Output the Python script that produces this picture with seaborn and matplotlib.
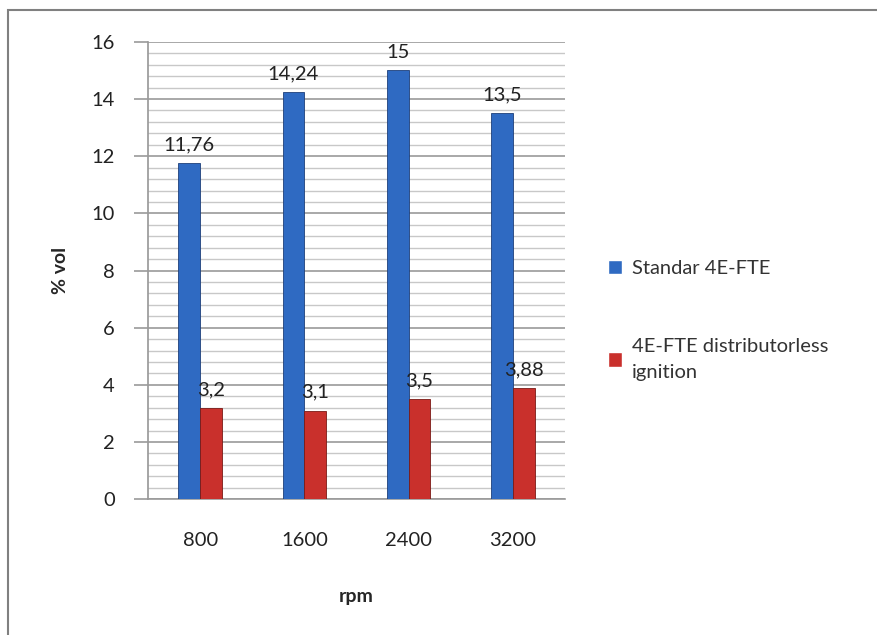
import pandas as pd
import numpy as np
import matplotlib.pyplot as plt
import matplotlib.patches as mpatches
from matplotlib.ticker import MultipleLocator
import seaborn as sns

# data
rpm = ["800", "1600", "2400", "3200"]
standar = [11.76, 14.24, 15, 13.5]
distributorless = [3.2, 3.1, 3.5, 3.88]
series_names = ["Standar 4E-FTE", "4E-FTE distributorless\nignition"]

df = pd.DataFrame({
    "rpm": rpm * 2,
    "value": standar + distributorless,
    "series": [series_names[0]] * len(rpm) + [series_names[1]] * len(rpm),
})

sns.set_theme(style="white")
plt.rcParams['font.family'] = ['Lato', 'DejaVu Sans']

fig = plt.figure(figsize=(8.77, 6.35), dpi=100)
ax = fig.add_axes([0.169, 0.214, 0.475, 0.72])

palette = {series_names[0]: "#2F6AC2", series_names[1]: "#C9302C"}
sns.barplot(data=df, x="rpm", y="value", hue="series", palette=palette,
            width=0.42, gap=0, ax=ax, saturation=1, legend=True, zorder=3)

for container, vals in zip(ax.containers, [standar, distributorless]):
    for patch in container:
        patch.set_edgecolor("#1E3F7A" if vals is standar else "#7A1A16")
        patch.set_linewidth(0.6)
    labels = [str(v).replace(".", ",") for v in vals]
    ax.bar_label(container, labels=labels, padding=7, fontsize=14.5, color="#222222")

ax.set_ylim(0, 16)
ax.yaxis.set_major_locator(MultipleLocator(2))
ax.yaxis.set_minor_locator(MultipleLocator(0.4))
ax.grid(which="major", axis="y", color="#9A9A9A", linewidth=1.2, zorder=0)
ax.grid(which="minor", axis="y", color="#C8C8C8", linewidth=1.0, zorder=0)
ax.set_axisbelow(True)

for side in ["top", "right"]:
    ax.spines[side].set_visible(False)
ax.spines["left"].set_color("#9A9A9A")
ax.spines["bottom"].set_color("#9A9A9A")
ax.spines["bottom"].set_linewidth(1.2)
ax.tick_params(axis="y", which="major", left=True, length=10, width=1.2, color="#9A9A9A",
               labelsize=14.5, labelcolor="#222222", pad=14)
ax.tick_params(axis="x", bottom=False, labelsize=14.5, labelcolor="#222222", pad=18)

ax.set_xlabel("rpm", fontsize=14, fontweight="bold", labelpad=28)
ax.set_ylabel("% vol", fontsize=14, fontweight="bold", labelpad=16)

handles, labels = ax.get_legend_handles_labels()
ax.legend(handles, labels, loc="center left", bbox_to_anchor=(1.06, 0.39),
          frameon=False, fontsize=14.5, handlelength=0.7, handleheight=0.7,
          labelspacing=3.0, handletextpad=0.5, labelcolor="#333333")
for t in ax.get_legend().get_texts():
    t.set_linespacing(1.7)

# outer chart border
fig.patches.append(mpatches.Rectangle((0.009, -0.01), 1.0, 0.995, transform=fig.transFigure,
                                      fill=False, edgecolor="#808080", linewidth=1.5))

fig.savefig("out.png", dpi=100)
